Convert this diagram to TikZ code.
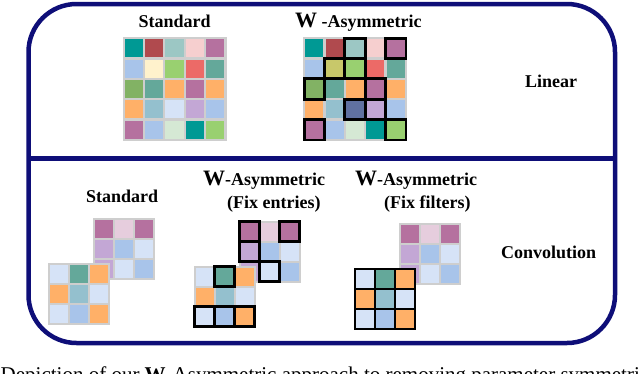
\documentclass[tikz,border=0pt]{standalone}
\usepackage[no-math]{fontspec}
\setmainfont{Liberation Serif}

\definecolor{framenavy}{RGB}{14,14,120}
\definecolor{boardgray}{RGB}{206,206,206}
\definecolor{tealc}{RGB}{0,153,148}
\definecolor{redc}{RGB}{176,74,78}
\definecolor{teagray}{RGB}{156,199,196}
\definecolor{pinkc}{RGB}{246,207,207}
\definecolor{mauve}{RGB}{181,113,159}
\definecolor{mpink}{RGB}{230,205,221}
\definecolor{lblue}{RGB}{168,196,234}
\definecolor{vlblue}{RGB}{214,227,247}
\definecolor{cream}{RGB}{255,242,204}
\definecolor{lgreen}{RGB}{153,208,112}
\definecolor{salmon}{RGB}{236,106,103}
\definecolor{seagreen}{RGB}{100,168,154}
\definecolor{greenc}{RGB}{130,178,100}
\definecolor{orangec}{RGB}{255,176,104}
\definecolor{bgray}{RGB}{148,192,206}
\definecolor{lavender}{RGB}{195,167,213}
\definecolor{palegreen}{RGB}{213,232,212}
\definecolor{olivec}{RGB}{200,200,106}
\definecolor{slatec}{RGB}{96,113,160}

% big bold W of the titles
\newcommand{\bigW}{{\fontsize{22}{24}\selectfont\bfseries W}}

% #1 origin (top left), #2 cells per side, #3 pitch, #4 rows of colours
\newcommand{\colorgrid}[4]{%
  \begin{scope}[shift={#1}]
    \fill[board] (0,0) rectangle ({#2*#3+2.2},{#2*#3+2.2});
    \foreach \clist [count=\ri] in {#4}
      \foreach \cc [count=\cj] in \clist
        \fill[\cc] ({2.2+(\cj-1)*#3},{2.2+(\ri-1)*#3}) rectangle ++({#3-2.2},{#3-2.2});
  \end{scope}}

% #1 origin, #2 pitch, #3 row/col of the fixed cells
\newcommand{\boldcells}[3]{%
  \begin{scope}[shift={#1}]
    \foreach \ri/\cj in {#3}
      \draw[boldcell] ({1.1+(\cj-1)*#2},{1.1+(\ri-1)*#2}) rectangle ++(#2,#2);
  \end{scope}}

\begin{document}
\begin{tikzpicture}[x=1pt, y=-1pt,
  frame/.style={draw=framenavy, line width=4.5pt, rounded corners=48pt},
  divider/.style={draw=framenavy, line width=5pt},
  board/.style={fill=boardgray},
  boldcell/.style={draw=black, line width=2.8pt},
  title/.style={font=\fontsize{18}{21}\selectfont\bfseries, inner sep=0pt, anchor=base west},
  caption/.style={font=\fontsize{21}{24}\selectfont, inner sep=0pt, anchor=base west}
]
  \useasboundingbox (0,0) rectangle (640,373);

  % frame
  \draw[frame] (28.5,4) rectangle (615,343);
  \draw[divider] (28.5,158) -- (615,158);

  % linear
  \node[title] (stdlin) at (138.3,27) {Standard};
  \node[title] (asymlin) at (295,27) {\bigW{} -Asymmetric};
  \node[title] (linear) at (525,87) {Linear};

  \colorgrid{(122.5,37)}{5}{20.36}{{tealc,redc,teagray,pinkc,mauve},{lblue,cream,lgreen,salmon,seagreen},{greenc,seagreen,orangec,mauve,orangec},{orangec,bgray,vlblue,lavender,lblue},{mauve,lblue,palegreen,tealc,lgreen}}
  \colorgrid{(303,37)}{5}{20.36}{{tealc,redc,teagray,pinkc,mauve},{lblue,olivec,lgreen,salmon,seagreen},{greenc,seagreen,orangec,mauve,orangec},{orangec,bgray,slatec,lavender,lblue},{mauve,lblue,palegreen,tealc,lgreen}}
  \boldcells{(303,37)}{20.36}{1/3,1/5,2/2,2/3,3/1,3/4,4/3,4/4,5/1,5/5}

  % convolution
  \node[title] (stdconv) at (86,202) {Standard};
  \node[title] (entries) at (203,185) {\bigW-Asymmetric};
  \node[title] (entriesfix) at (227,208.5) {(Fix entries)};
  \node[title] (filters) at (355,185) {\bigW-Asymmetric};
  \node[title] (filtersfix) at (384,208.5) {(Fix filters)};
  \node[title] (conv) at (501,258) {Convolution};

  \colorgrid{(93,218)}{3}{20}{{mauve,mpink,mauve},{lavender,lblue,vlblue},{lavender,vlblue,lblue}}
  \colorgrid{(48,263)}{3}{20}{{vlblue,seagreen,orangec},{orangec,bgray,vlblue},{vlblue,lblue,orangec}}

  \colorgrid{(238.5,220.5)}{3}{20}{{mauve,mpink,mauve},{lavender,lblue,vlblue},{lavender,vlblue,lblue}}
  \boldcells{(238.5,220.5)}{20}{1/1,1/3,2/1,3/2}
  \colorgrid{(193.5,265.5)}{3}{20}{{vlblue,seagreen,orangec},{orangec,bgray,vlblue},{vlblue,lblue,orangec}}
  \boldcells{(193.5,265.5)}{20}{1/2,3/1,3/2,3/3}

  \colorgrid{(399,222.5)}{3}{20}{{mauve,mpink,mauve},{lavender,lblue,vlblue},{lavender,vlblue,lblue}}
  \colorgrid{(353.8,267.8)}{3}{20}{{vlblue,seagreen,orangec},{orangec,bgray,vlblue},{vlblue,lblue,orangec}}
  \boldcells{(353.8,267.8)}{20}{1/1,1/2,1/3,2/1,2/2,2/3,3/1,3/2,3/3}

  % caption, cut by the page edge
  \node[caption] (capt) at (0.5,381) {Depiction of our \textbf{W}-Asymmetric approach to removing parameter symmetries};
\end{tikzpicture}
\end{document}
